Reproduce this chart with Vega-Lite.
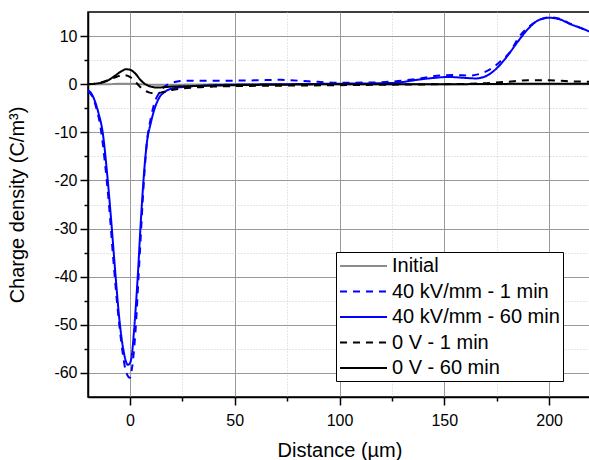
{
  "$schema": "https://vega.github.io/schema/vega-lite/v6.json",
  "autosize": {"type": "none"},
  "padding": {"left": 88, "top": 12, "right": 0, "bottom": 63},
  "width": 503,
  "height": 385,
  "background": "white",
  "config": {
    "view": {"stroke": "black", "strokeWidth": 1.5},
    "font": "Liberation Sans"
  },
  "datasets": {
    "curves": [
      {"series": "Initial", "x": -20, "y": 0},
      {"series": "Initial", "x": -10, "y": 0},
      {"series": "Initial", "x": -5, "y": 0.1},
      {"series": "Initial", "x": 0, "y": 0.1},
      {"series": "Initial", "x": 5, "y": 0},
      {"series": "Initial", "x": 10, "y": -0.1},
      {"series": "Initial", "x": 20, "y": -0.1},
      {"series": "Initial", "x": 50, "y": 0},
      {"series": "Initial", "x": 100, "y": 0},
      {"series": "Initial", "x": 150, "y": 0},
      {"series": "Initial", "x": 200, "y": 0},
      {"series": "Initial", "x": 220, "y": 0},

      {"series": "40 kV/mm - 1 min", "x": -20, "y": -1.5},
      {"series": "40 kV/mm - 1 min", "x": -18, "y": -2.5},
      {"series": "40 kV/mm - 1 min", "x": -16, "y": -5},
      {"series": "40 kV/mm - 1 min", "x": -14, "y": -9},
      {"series": "40 kV/mm - 1 min", "x": -12, "y": -16},
      {"series": "40 kV/mm - 1 min", "x": -10, "y": -25},
      {"series": "40 kV/mm - 1 min", "x": -8, "y": -36},
      {"series": "40 kV/mm - 1 min", "x": -6, "y": -46},
      {"series": "40 kV/mm - 1 min", "x": -4, "y": -54},
      {"series": "40 kV/mm - 1 min", "x": -2, "y": -59.5},
      {"series": "40 kV/mm - 1 min", "x": 0, "y": -61},
      {"series": "40 kV/mm - 1 min", "x": 1, "y": -59},
      {"series": "40 kV/mm - 1 min", "x": 2, "y": -55},
      {"series": "40 kV/mm - 1 min", "x": 3, "y": -49},
      {"series": "40 kV/mm - 1 min", "x": 4, "y": -41},
      {"series": "40 kV/mm - 1 min", "x": 5, "y": -33},
      {"series": "40 kV/mm - 1 min", "x": 6, "y": -25},
      {"series": "40 kV/mm - 1 min", "x": 7, "y": -18},
      {"series": "40 kV/mm - 1 min", "x": 8, "y": -12.5},
      {"series": "40 kV/mm - 1 min", "x": 10, "y": -7},
      {"series": "40 kV/mm - 1 min", "x": 12, "y": -3.5},
      {"series": "40 kV/mm - 1 min", "x": 14, "y": -1.8},
      {"series": "40 kV/mm - 1 min", "x": 16, "y": -0.7},
      {"series": "40 kV/mm - 1 min", "x": 19, "y": 0.1},
      {"series": "40 kV/mm - 1 min", "x": 22, "y": 0.5},
      {"series": "40 kV/mm - 1 min", "x": 25, "y": 0.7},
      {"series": "40 kV/mm - 1 min", "x": 40, "y": 0.7},
      {"series": "40 kV/mm - 1 min", "x": 60, "y": 0.8},
      {"series": "40 kV/mm - 1 min", "x": 72, "y": 0.9},
      {"series": "40 kV/mm - 1 min", "x": 85, "y": 0.6},
      {"series": "40 kV/mm - 1 min", "x": 100, "y": 0.3},
      {"series": "40 kV/mm - 1 min", "x": 115, "y": 0.35},
      {"series": "40 kV/mm - 1 min", "x": 124, "y": 0.5},
      {"series": "40 kV/mm - 1 min", "x": 137, "y": 1.1},
      {"series": "40 kV/mm - 1 min", "x": 148, "y": 1.8},
      {"series": "40 kV/mm - 1 min", "x": 155, "y": 1.9},
      {"series": "40 kV/mm - 1 min", "x": 162, "y": 1.8},
      {"series": "40 kV/mm - 1 min", "x": 168, "y": 2.3},
      {"series": "40 kV/mm - 1 min", "x": 173, "y": 3.4},
      {"series": "40 kV/mm - 1 min", "x": 177, "y": 4.8},
      {"series": "40 kV/mm - 1 min", "x": 181, "y": 6.5},
      {"series": "40 kV/mm - 1 min", "x": 186, "y": 10},
      {"series": "40 kV/mm - 1 min", "x": 190, "y": 11.8},
      {"series": "40 kV/mm - 1 min", "x": 195, "y": 13.3},
      {"series": "40 kV/mm - 1 min", "x": 200, "y": 13.9},
      {"series": "40 kV/mm - 1 min", "x": 205, "y": 13.6},
      {"series": "40 kV/mm - 1 min", "x": 210, "y": 12.6},
      {"series": "40 kV/mm - 1 min", "x": 215, "y": 11.7},
      {"series": "40 kV/mm - 1 min", "x": 220, "y": 10.8},

      {"series": "40 kV/mm - 60 min", "x": -20, "y": -1.3},
      {"series": "40 kV/mm - 60 min", "x": -19, "y": -1.6},
      {"series": "40 kV/mm - 60 min", "x": -17, "y": -3.2},
      {"series": "40 kV/mm - 60 min", "x": -15, "y": -6},
      {"series": "40 kV/mm - 60 min", "x": -13, "y": -10},
      {"series": "40 kV/mm - 60 min", "x": -11, "y": -18},
      {"series": "40 kV/mm - 60 min", "x": -9, "y": -28},
      {"series": "40 kV/mm - 60 min", "x": -7, "y": -39},
      {"series": "40 kV/mm - 60 min", "x": -5, "y": -49},
      {"series": "40 kV/mm - 60 min", "x": -3, "y": -55.5},
      {"series": "40 kV/mm - 60 min", "x": -1, "y": -58.3},
      {"series": "40 kV/mm - 60 min", "x": 0, "y": -58},
      {"series": "40 kV/mm - 60 min", "x": 1, "y": -56},
      {"series": "40 kV/mm - 60 min", "x": 2, "y": -51},
      {"series": "40 kV/mm - 60 min", "x": 3, "y": -45},
      {"series": "40 kV/mm - 60 min", "x": 4, "y": -38},
      {"series": "40 kV/mm - 60 min", "x": 5, "y": -30},
      {"series": "40 kV/mm - 60 min", "x": 6, "y": -23},
      {"series": "40 kV/mm - 60 min", "x": 7, "y": -17},
      {"series": "40 kV/mm - 60 min", "x": 8, "y": -12.5},
      {"series": "40 kV/mm - 60 min", "x": 10, "y": -8},
      {"series": "40 kV/mm - 60 min", "x": 12, "y": -4.8},
      {"series": "40 kV/mm - 60 min", "x": 14, "y": -2.8},
      {"series": "40 kV/mm - 60 min", "x": 17, "y": -1.5},
      {"series": "40 kV/mm - 60 min", "x": 20, "y": -0.9},
      {"series": "40 kV/mm - 60 min", "x": 25, "y": -0.6},
      {"series": "40 kV/mm - 60 min", "x": 30, "y": -0.4},
      {"series": "40 kV/mm - 60 min", "x": 40, "y": -0.2},
      {"series": "40 kV/mm - 60 min", "x": 50, "y": -0.1},
      {"series": "40 kV/mm - 60 min", "x": 75, "y": 0},
      {"series": "40 kV/mm - 60 min", "x": 100, "y": 0.1},
      {"series": "40 kV/mm - 60 min", "x": 120, "y": 0.2},
      {"series": "40 kV/mm - 60 min", "x": 127, "y": 0.3},
      {"series": "40 kV/mm - 60 min", "x": 137, "y": 0.9},
      {"series": "40 kV/mm - 60 min", "x": 145, "y": 1.3},
      {"series": "40 kV/mm - 60 min", "x": 152, "y": 1.5},
      {"series": "40 kV/mm - 60 min", "x": 160, "y": 1.3},
      {"series": "40 kV/mm - 60 min", "x": 165, "y": 1.2},
      {"series": "40 kV/mm - 60 min", "x": 170, "y": 1.7},
      {"series": "40 kV/mm - 60 min", "x": 175, "y": 3.3},
      {"series": "40 kV/mm - 60 min", "x": 180, "y": 5.8},
      {"series": "40 kV/mm - 60 min", "x": 185, "y": 8.8},
      {"series": "40 kV/mm - 60 min", "x": 190, "y": 11.5},
      {"series": "40 kV/mm - 60 min", "x": 195, "y": 13.3},
      {"series": "40 kV/mm - 60 min", "x": 200, "y": 13.8},
      {"series": "40 kV/mm - 60 min", "x": 205, "y": 13.5},
      {"series": "40 kV/mm - 60 min", "x": 210, "y": 12.5},
      {"series": "40 kV/mm - 60 min", "x": 215, "y": 11.7},
      {"series": "40 kV/mm - 60 min", "x": 220, "y": 10.8},

      {"series": "0 V - 1 min", "x": -20, "y": 0},
      {"series": "0 V - 1 min", "x": -15, "y": 0.2},
      {"series": "0 V - 1 min", "x": -10, "y": 0.9},
      {"series": "0 V - 1 min", "x": -6, "y": 1.6},
      {"series": "0 V - 1 min", "x": -3, "y": 1.9},
      {"series": "0 V - 1 min", "x": 0, "y": 1.5},
      {"series": "0 V - 1 min", "x": 3, "y": 0.3},
      {"series": "0 V - 1 min", "x": 6, "y": -1.0},
      {"series": "0 V - 1 min", "x": 9, "y": -1.7},
      {"series": "0 V - 1 min", "x": 12, "y": -1.9},
      {"series": "0 V - 1 min", "x": 15, "y": -1.7},
      {"series": "0 V - 1 min", "x": 20, "y": -1.2},
      {"series": "0 V - 1 min", "x": 25, "y": -0.9},
      {"series": "0 V - 1 min", "x": 30, "y": -0.7},
      {"series": "0 V - 1 min", "x": 40, "y": -0.5},
      {"series": "0 V - 1 min", "x": 50, "y": -0.4},
      {"series": "0 V - 1 min", "x": 75, "y": -0.3},
      {"series": "0 V - 1 min", "x": 100, "y": -0.2},
      {"series": "0 V - 1 min", "x": 125, "y": -0.1},
      {"series": "0 V - 1 min", "x": 150, "y": 0},
      {"series": "0 V - 1 min", "x": 170, "y": 0.2},
      {"series": "0 V - 1 min", "x": 180, "y": 0.5},
      {"series": "0 V - 1 min", "x": 190, "y": 0.8},
      {"series": "0 V - 1 min", "x": 200, "y": 0.8},
      {"series": "0 V - 1 min", "x": 210, "y": 0.6},
      {"series": "0 V - 1 min", "x": 220, "y": 0.5},

      {"series": "0 V - 60 min", "x": -20, "y": 0},
      {"series": "0 V - 60 min", "x": -15, "y": 0.2},
      {"series": "0 V - 60 min", "x": -10, "y": 0.9},
      {"series": "0 V - 60 min", "x": -7, "y": 1.8},
      {"series": "0 V - 60 min", "x": -4, "y": 2.7},
      {"series": "0 V - 60 min", "x": -2, "y": 3.1},
      {"series": "0 V - 60 min", "x": 0, "y": 3.0},
      {"series": "0 V - 60 min", "x": 3, "y": 2.0},
      {"series": "0 V - 60 min", "x": 5, "y": 0.9},
      {"series": "0 V - 60 min", "x": 7, "y": 0.1},
      {"series": "0 V - 60 min", "x": 10, "y": -0.5},
      {"series": "0 V - 60 min", "x": 13, "y": -0.7},
      {"series": "0 V - 60 min", "x": 17, "y": -0.6},
      {"series": "0 V - 60 min", "x": 20, "y": -0.5},
      {"series": "0 V - 60 min", "x": 30, "y": -0.4},
      {"series": "0 V - 60 min", "x": 50, "y": -0.2},
      {"series": "0 V - 60 min", "x": 75, "y": -0.1},
      {"series": "0 V - 60 min", "x": 100, "y": 0},
      {"series": "0 V - 60 min", "x": 150, "y": 0},
      {"series": "0 V - 60 min", "x": 200, "y": 0.1},
      {"series": "0 V - 60 min", "x": 220, "y": 0.1}
    ]
  },
  "data": {"name": "curves"},
  "mark": {"type": "line", "interpolate": "monotone", "strokeWidth": 2, "clip": true},
  "encoding": {
    "x": {
      "field": "x", "type": "quantitative",
      "scale": {"domain": [-20, 220], "nice": false, "zero": false},
      "axis": {
        "title": "Distance (µm)",
        "values": [0, 25, 50, 75, 100, 125, 150, 175, 200],
        "labelExpr": "datum.value % 50 === 0 ? '' + datum.value : ''",
        "labelFontSize": 16, "labelColor": "black", "labelPadding": 7,
        "titleFontSize": 20, "titleFontWeight": "normal", "titleColor": "black", "titlePadding": 12,
        "domainColor": "black", "domainWidth": 1.5,
        "tickColor": "black", "tickWidth": 1.5,
        "tickSize": {"condition": {"test": "datum.value % 50 === 0", "value": 8}, "value": 4},
        "grid": true,
        "gridColor": {"condition": {"test": "datum.value % 50 === 0", "value": "#999999"}, "value": "#cccccc"},
        "gridDash": {"condition": {"test": "datum.value % 50 === 0", "value": []}, "value": [1, 2]},
        "gridWidth": 1
      }
    },
    "y": {
      "field": "y", "type": "quantitative",
      "scale": {"domain": [-65, 15], "nice": false, "zero": false},
      "axis": {
        "title": "Charge density (C/m³)",
        "values": [-60, -55, -50, -45, -40, -35, -30, -25, -20, -15, -10, -5, 0, 5, 10],
        "labelExpr": "datum.value % 10 === 0 ? '' + datum.value : ''",
        "labelFontSize": 16, "labelColor": "black", "labelPadding": 3,
        "titleFontSize": 20, "titleFontWeight": "normal", "titleColor": "black", "titlePadding": 26,
        "domainColor": "black", "domainWidth": 1.5,
        "tickColor": "black", "tickWidth": 1.5,
        "tickSize": {"condition": {"test": "datum.value % 10 === 0", "value": 8}, "value": 4},
        "grid": true,
        "gridColor": {"condition": {"test": "datum.value % 10 === 0", "value": "#999999"}, "value": "#cccccc"},
        "gridDash": {"condition": {"test": "datum.value % 10 === 0", "value": []}, "value": [1, 2]},
        "gridWidth": 1
      }
    },
    "color": {
      "field": "series", "type": "nominal",
      "scale": {
        "domain": ["Initial", "40 kV/mm - 1 min", "40 kV/mm - 60 min", "0 V - 1 min", "0 V - 60 min"],
        "range": ["#8c8c8c", "#0000ff", "#0000ff", "#000000", "#000000"]
      },
      "legend": {
        "title": null, "orient": "none", "legendX": 248, "legendY": 240,
        "symbolType": "M-1,0H3.7", "symbolSize": 400, "symbolStrokeWidth": 2,
        "labelFontSize": 20, "labelColor": "black", "labelOffset": 31, "labelLimit": 300,
        "rowPadding": 4.5, "padding": 3,
        "fillColor": "white", "strokeColor": "black"
      }
    },
    "strokeDash": {
      "field": "series", "type": "nominal",
      "scale": {
        "domain": ["Initial", "40 kV/mm - 1 min", "40 kV/mm - 60 min", "0 V - 1 min", "0 V - 60 min"],
        "range": [[1, 0], [7, 6], [1, 0], [7, 6], [1, 0]]
      },
      "legend": {
        "title": null, "orient": "none", "legendX": 248, "legendY": 240,
        "symbolType": "M-1,0H3.7", "symbolSize": 400, "symbolStrokeWidth": 2,
        "labelFontSize": 20, "labelColor": "black", "labelOffset": 31, "labelLimit": 300,
        "rowPadding": 4.5, "padding": 3,
        "fillColor": "white", "strokeColor": "black"
      }
    },
    "order": {"field": "x", "type": "quantitative"}
  }
}
